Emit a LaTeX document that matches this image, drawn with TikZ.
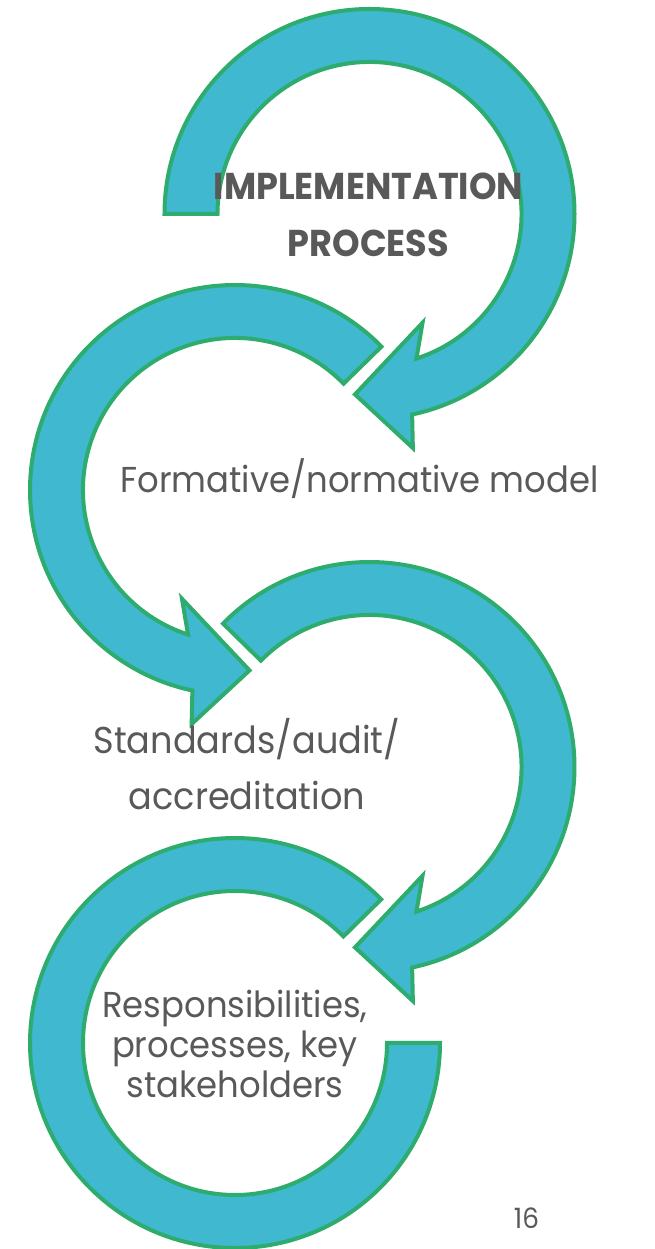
\documentclass[tikz,border=0pt]{standalone}
\usepackage{fontspec}
\setmainfont{Poppins}[FakeStretch=0.94]
\usetikzlibrary{calc, positioning}
\definecolor{arrowblue}{RGB}{63,184,208}
\definecolor{arrowgreen}{RGB}{46,172,110}
\definecolor{textgrey}{RGB}{89,89,89}

\begin{document}
\begin{tikzpicture}[x=0.75pt, y=0.75pt,
    band/.style={draw=arrowgreen, fill=arrowblue, line width=3pt, line join=miter},
    cycletext/.style={text=textgrey, inner sep=0pt, anchor=base, align=center}]
\useasboundingbox (0,0) rectangle (654,1249);

\coordinate (C1) at (369.5,1035);
\coordinate (C2) at (235,759);
\coordinate (C3) at (369.5,482);
\coordinate (C4) at (235,206);

% top arrow, clockwise
\draw[band] ($(C1)+(180:205)$) arc[start angle=180, end angle=-78, radius=205]
    -- ($(C1)+(-79.5:238)$) -- ($(C1)+(-94.6:181)$) -- ($(C1)+(-64:121)$)
    -- ($(C1)+(-72:152)$) arc[start angle=-72, end angle=180, radius=152] -- cycle;
% second arrow, anticlockwise
\draw[band] ($(C2)+(44.4:205)$) arc[start angle=44.4, end angle=258, radius=205]
    -- ($(C2)+(259.5:238)$) -- ($(C2)+(274.6:181)$) -- ($(C2)+(244:121)$)
    -- ($(C2)+(252:152)$) arc[start angle=252, end angle=44.4, radius=152] -- cycle;
% third arrow, clockwise
\draw[band] ($(C3)+(135.6:205)$) arc[start angle=135.6, end angle=-78, radius=205]
    -- ($(C3)+(-79.5:238)$) -- ($(C3)+(-94.6:181)$) -- ($(C3)+(-64:121)$)
    -- ($(C3)+(-72:152)$) arc[start angle=-72, end angle=135.6, radius=152] -- cycle;
% bottom ring, no head
\draw[band] ($(C4)+(44.5:205)$) arc[start angle=44.5, end angle=360, radius=205]
    -- ($(C4)+(0:152)$) arc[start angle=360, end angle=44.5, radius=152] -- cycle;

\node[cycletext, font=\bfseries\fontsize{28}{42.75}\selectfont] (title) at (368.5,992) {IMPLEMENTATION\\PROCESS};
\node[cycletext, font=\fontsize{27}{42}\selectfont] (formative) at (359.5,756) {Formative/normative model};
\node[cycletext, font=\fontsize{28}{42}\selectfont] (standards) at (247,439) {Standards/audit/\\accreditation};
\node[cycletext, font=\fontsize{27}{30}\selectfont] (roles) at (235,151) {Responsibilities,\\processes, key\\stakeholders};
\node[cycletext, font=\fontsize{21}{25}\selectfont] (page) at (526.5,20) {16};
\end{tikzpicture}
\end{document}
